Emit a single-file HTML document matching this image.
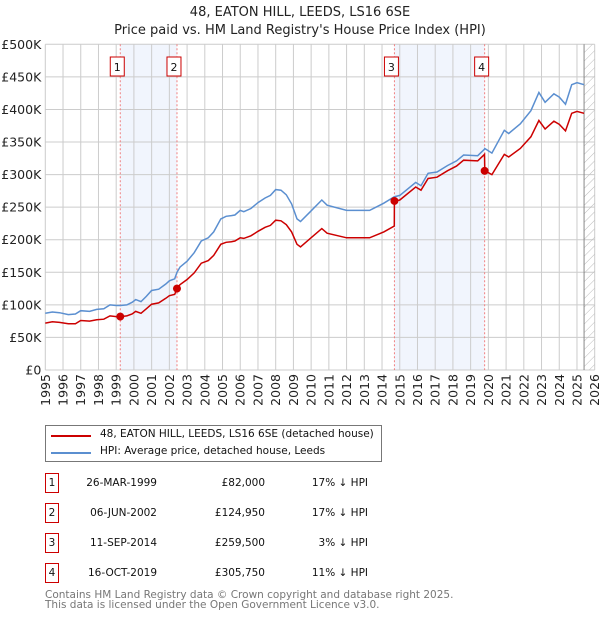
<!DOCTYPE html>
<html><head><meta charset="utf-8"><style>
body{margin:0;background:#fff;font-family:"DejaVu Sans","Liberation Sans",sans-serif;}
#wrap{position:relative;width:600px;height:620px;overflow:hidden}
</style></head><body>
<div id="wrap">
<svg id="chart" width="600" height="620" style="position:absolute;left:0;top:0;font-family:'DejaVu Sans',sans-serif">
<defs><pattern id="hatch" width="6" height="6" patternUnits="userSpaceOnUse" patternTransform="rotate(45)"><line x1="0" y1="0" x2="0" y2="6" stroke="#bbb" stroke-width="1"/></pattern></defs>
<text x="300" y="16" text-anchor="middle" font-size="13" fill="#222">48, EATON HILL, LEEDS, LS16 6SE</text>
<text x="300" y="34" text-anchor="middle" font-size="13" fill="#222">Price paid vs. HM Land Registry's House Price Index (HPI)</text>
<g id="g"></g>
</svg>
<div style="position:absolute;left:45px;top:425px;width:335px;height:35px;border:1px solid #777;font-size:10.5px;color:#111">
 <div style="position:absolute;left:5px;top:3px;width:40px;height:2px;background:#cc0000;margin-top:6px"></div>
 <div style="position:absolute;left:54px;top:2px">48, EATON HILL, LEEDS, LS16 6SE (detached house)</div>
 <div style="position:absolute;left:5px;top:20px;width:40px;height:2px;background:#5b8fd0;margin-top:6px"></div>
 <div style="position:absolute;left:54px;top:19px">HPI: Average price, detached house, Leeds</div>
</div>
<div id="table"></div>
<div style="position:absolute;left:45px;top:590px;font-size:10.5px;color:#777;line-height:10px">Contains HM Land Registry data © Crown copyright and database right 2025.<br>This data is licensed under the Open Government Licence v3.0.</div>
</div>
<script>
const years=[1995.0,1995.4,1995.8,1996.3,1996.7,1997.0,1997.5,1997.9,1998.3,1998.65,1999.0,1999.23,1999.6,1999.9,2000.1,2000.4,2000.7,2001.0,2001.4,2001.8,2002.0,2002.3,2002.43,2002.6,2003.0,2003.4,2003.8,2004.2,2004.5,2004.9,2005.2,2005.5,2005.7,2006.0,2006.2,2006.6,2007.0,2007.4,2007.7,2008.0,2008.3,2008.6,2008.9,2009.2,2009.4,2009.95,2010.6,2010.9,2012.0,2012.9,2013.3,2014.1,2014.69,2014.7,2015.0,2015.9,2016.2,2016.6,2017.1,2017.7,2018.2,2018.6,2019.4,2019.78,2019.8,2020.2,2020.9,2021.15,2021.8,2022.4,2022.85,2023.2,2023.7,2024.0,2024.35,2024.7,2025.0,2025.4];
const hpiValues=[87,89,88,85,86,91,90,93,94,100,99,99,100,104,108,105,113,122,124,132,137,140,150,158,167,180,198,203,212,232,236,237,238,245,243,248,257,264,268,277,276,269,255,232,228,243,261,253,245,245,245,256,266,266,268,288,283,302,304,314,321,330,329,339,340,333,368,363,378,398,426,411,424,419,408,438,441,438];
const priceValues=[72,74,73,71,71,76,75,77,78,83,82,82,83,86,90,87,94,101,103,110,114,116,125,131,139,149,164,168,176,193,196,197,198,203,202,206,213,219,222,230,229,223,212,193,189,202,217,210,203,203,203,212,221,259,261,281,276,294,296,306,313,322,321,331,306,300,331,327,340,358,383,370,382,377,367,394,397,394];
const saleLabels=["1","2","3","4"];
const saleYears=[1999.23,2002.43,2014.70,2019.79];
const salePrices=[82,124.95,259.5,305.75];
const saleDates=["26-MAR-1999","06-JUN-2002","11-SEP-2014","16-OCT-2019"];
const salePriceText=["£82,000","£124,950","£259,500","£305,750"];
const saleHpiText=["17% ↓ HPI","17% ↓ HPI","3% ↓ HPI","11% ↓ HPI"];
const yTicks=[0,50,100,150,200,250,300,350,400,450,500];
const yTickLabels=["£0","£50K","£100K","£150K","£200K","£250K","£300K","£350K","£400K","£450K","£500K"];
const xTicks=[1995,1996,1997,1998,1999,2000,2001,2002,2003,2004,2005,2006,2007,2008,2009,2010,2011,2012,2013,2014,2015,2016,2017,2018,2019,2020,2021,2022,2023,2024,2025,2026];
const L=45.3,R=594.7,T=44.3,B=370,X0=1995,X1=2026,YMAX=500,HATCH=2025.4;
const X=v=>L+(v-X0)/(X1-X0)*(R-L);
const Y=v=>B-v/YMAX*(B-T);
const NS="http://www.w3.org/2000/svg";
const g=document.getElementById('g');
function mk(t,a){const e=document.createElementNS(NS,t);for(const k in a)e.setAttribute(k,a[k]);g.appendChild(e);return e;}
for(let i=0;i<saleYears.length;i+=2){
 const e=mk('rect',{x:X(saleYears[i]),y:T,width:X(saleYears[i+1])-X(saleYears[i]),height:B-T,fill:'#f1f5fd'});
 
 
}
yTicks.forEach((v,i)=>{
 const l=mk('line',{x1:L,x2:R,y1:Y(v),y2:Y(v),stroke:'#ccc','stroke-width':1});
 
 
 const t=mk('text',{x:L-4,y:Y(v)+4.5,'text-anchor':'end','font-size':12.5,fill:'#222'});
 t.textContent=yTickLabels[i];
 
 
});
xTicks.forEach(v=>{
 const l=mk('line',{x1:X(v),x2:X(v),y1:T,y2:B,stroke:'#ccc','stroke-width':1});
 
 
 const t=mk('text',{x:0,y:0,'text-anchor':'end','font-size':12.5,fill:'#222',transform:`translate(${X(v)+4.5},${B+4}) rotate(-90)`});
 t.textContent=v;
 
 
});
const h=mk('rect',{x:X(HATCH),y:T,width:R-X(HATCH),height:B-T,fill:'url(#hatch)'});


const hl=mk('line',{x1:X(HATCH),x2:X(HATCH),y1:T,y2:B,stroke:'#888','stroke-width':1});


saleYears.forEach((v,i)=>{
 const l=mk('line',{x1:X(v),x2:X(v),y1:T,y2:B,stroke:'#f08080','stroke-width':1,'stroke-dasharray':'2,2'});
 
 
 const r=mk('rect',{x:X(v)-10,y:57,width:14,height:19,fill:'#fff',stroke:'#cc0000','stroke-width':1});
 
 
 const t=mk('text',{x:X(v)-3,y:71,'text-anchor':'middle','font-size':11,fill:'#111'});
 t.textContent=saleLabels[i];
 
 
});
function path(vals){return vals.map((v,i)=>(i?'L':'M')+X(years[i]).toFixed(1)+','+Y(v).toFixed(1)).join('');}
const hp=mk('path',{d:path(hpiValues),fill:'none',stroke:'#5b8fd0','stroke-width':1.5});


const pp=mk('path',{d:path(priceValues),fill:'none',stroke:'#cc0000','stroke-width':1.5});


saleYears.forEach((v,i)=>{
 const c=mk('circle',{cx:X(v),cy:Y(salePrices[i]),r:4,fill:'#cc0000'});
 
 
});
const tb=document.getElementById('table');
saleLabels.forEach((s,i)=>{
 const y=473+i*30;
 const row=document.createElement('div');
 
 
 row.style.cssText=`position:absolute;left:0;top:${y}px;width:600px;height:20px;font-size:10.5px;color:#111`;
 row.innerHTML=`<div style="position:absolute;left:45px;top:0;width:12px;height:18px;border:1px solid #cc0000;text-align:center;line-height:18px">${s}</div>
 <div style="position:absolute;left:60px;width:97px;text-align:right;line-height:20px">${saleDates[i]}</div>
 <div style="position:absolute;left:170px;width:95px;text-align:right;line-height:20px">${salePriceText[i]}</div>
 <div style="position:absolute;left:270px;width:98px;text-align:right;line-height:20px">${saleHpiText[i]}</div>`;
 tb.appendChild(row);
});
</script>
</body></html>
